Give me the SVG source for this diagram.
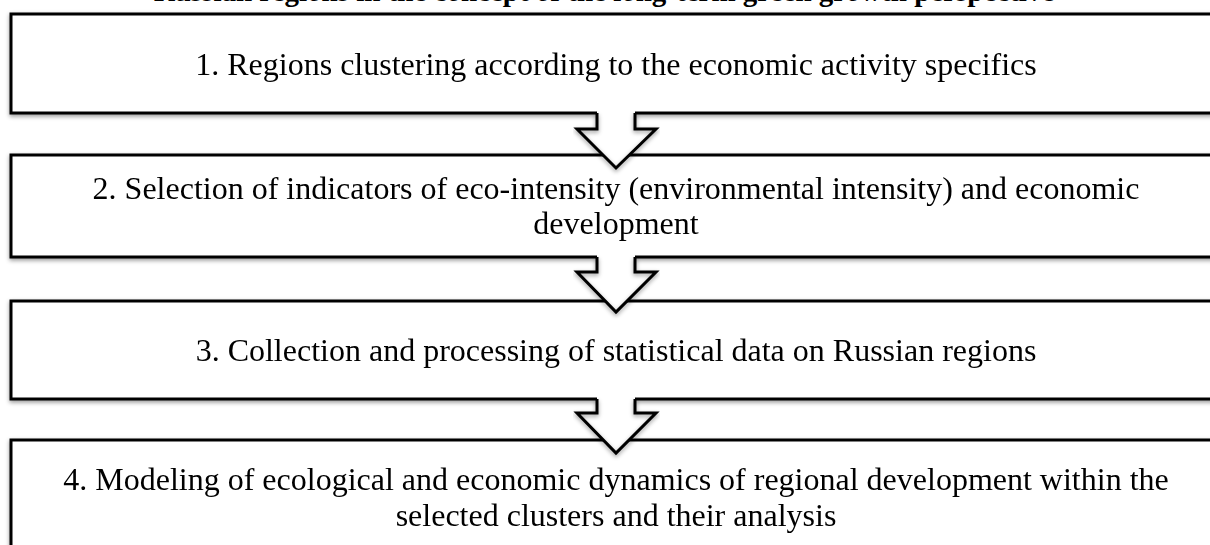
<svg xmlns="http://www.w3.org/2000/svg" width="1210" height="545" viewBox="0 0 1210 545">
  <defs>
    <filter id="sh" x="-5%" y="-20%" width="110%" height="150%">
      <feDropShadow dx="0" dy="2" stdDeviation="2" flood-color="#000" flood-opacity="0.4"/>
    </filter>
    <style>
      .box { fill: #fff; stroke: #000; stroke-width: 3; }
      .txt { font-family: "Liberation Serif", "Times New Roman", serif; font-size: 32px; fill: #000; text-anchor: middle; }
      .title { font-family: "Liberation Serif", "Times New Roman", serif; font-size: 29px; font-weight: bold; fill: #000; text-anchor: middle; }
      .afill { fill: #fff; stroke: none; }
      .aline { fill: none; stroke: #000; stroke-width: 3; stroke-linejoin: miter; }
    </style>
  </defs>
  <rect width="1210" height="545" fill="#fff"/>
  <text class="title" x="604" y="1">Russian regions in the concept of the long-term green growth perspective</text>

  <g id="node1" filter="url(#sh)">
    <rect class="box" x="11" y="14" width="1215" height="99"/>
    <text class="txt" x="616" y="75">1. Regions clustering according to the economic activity specifics</text>
  </g>
  <g id="node2" filter="url(#sh)">
    <rect class="box" x="11" y="155" width="1215" height="102"/>
    <text class="txt" x="616" y="199">2. Selection of indicators of eco-intensity (environmental intensity) and economic</text>
    <text class="txt" x="616" y="234">development</text>
  </g>
  <g id="node3" filter="url(#sh)">
    <rect class="box" x="11" y="301" width="1215" height="98"/>
    <text class="txt" x="616" y="361">3. Collection and processing of statistical data on Russian regions</text>
  </g>
  <g id="node4" filter="url(#sh)">
    <rect class="box" x="11" y="440" width="1215" height="130"/>
    <text class="txt" x="616" y="490">4. Modeling of ecological and economic dynamics of regional development within the</text>
    <text class="txt" x="616" y="526">selected clusters and their analysis</text>
  </g>

  <g id="connectors">
    <g id="arrow1">
      <polygon class="afill" points="597,110 597,129 577,129 616,168 656,129 635,129 635,110"/>
      <polyline class="aline" filter="url(#sh)" points="597,113 597,129 577,129 616,168 656,129 635,129 635,113"/>
    </g>
    <g id="arrow2">
      <polygon class="afill" points="597,254 597,272 577,272 616,312 656,272 635,272 635,254"/>
      <polyline class="aline" filter="url(#sh)" points="597,257 597,272 577,272 616,312 656,272 635,272 635,257"/>
    </g>
    <g id="arrow3">
      <polygon class="afill" points="597,396 597,413 577,413 616,453 656,413 635,413 635,396"/>
      <polyline class="aline" filter="url(#sh)" points="597,399 597,413 577,413 616,453 656,413 635,413 635,399"/>
    </g>
  </g>
</svg>
